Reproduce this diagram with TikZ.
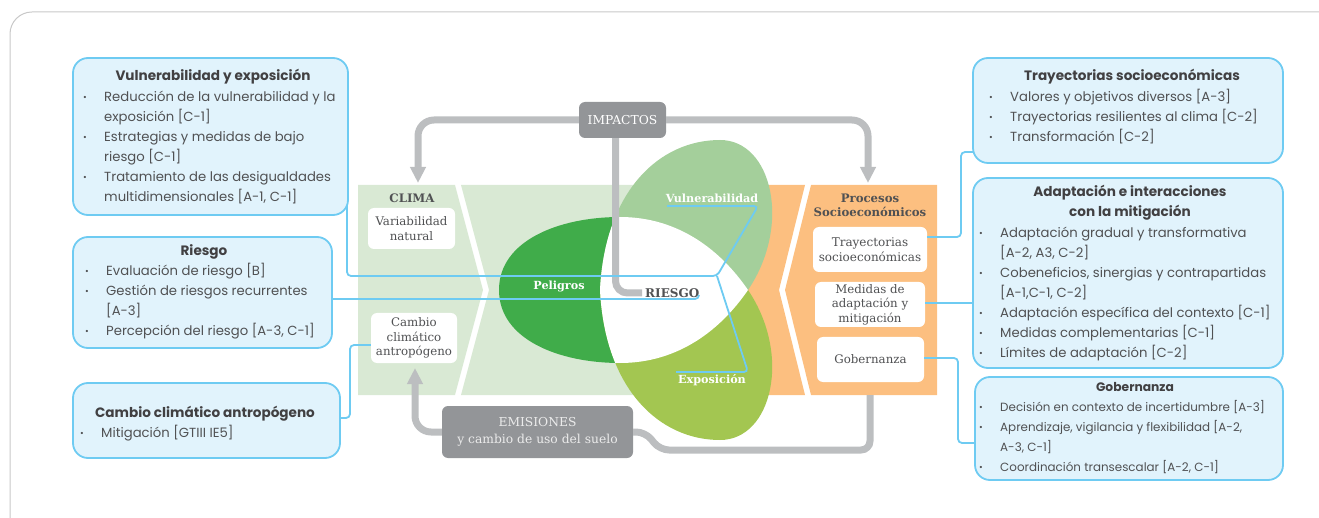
\documentclass[tikz,border=0pt]{standalone}
\usepackage{fontspec}
\setmainfont{Poppins}
\newfontfamily\slab{DejaVu Serif}
\usetikzlibrary{arrows.meta,calc}
\definecolor{framec}{HTML}{C8C8C8}
\definecolor{bandc}{HTML}{D9E9D4}
\definecolor{orc}{HTML}{FCBF80}
\definecolor{pelc}{HTML}{40AC4A}
\definecolor{vulc}{HTML}{A4CF9B}
\definecolor{expc}{HTML}{A3C651}
\definecolor{lineblue}{HTML}{6ECBF2}
\definecolor{boxfill}{HTML}{E1F3FC}
\definecolor{arrowgray}{HTML}{BCBEC0}
\definecolor{boxgray}{HTML}{939598}
\definecolor{txtgray}{HTML}{505153}
\definecolor{hdgray}{HTML}{414042}
\newcommand{\bl}{\makebox[21pt][l]{\raisebox{1pt}{\fontsize{9}{9}\selectfont\textbullet}}}
\newcommand{\ct}{\hspace*{21pt}}
\begin{document}
\begin{tikzpicture}[x=1pt,y=-1pt,
  conn/.style={draw=lineblue, line width=1.8pt, rounded corners=4pt},
  garrow/.style={draw=arrowgray, line width=7pt, rounded corners=16pt},
  gtip/.style={-{Triangle[width=15pt,length=16pt]}},
  info/.style={draw=lineblue, line width=1.8pt, fill=boxfill, rounded corners=15pt, inner sep=0pt, outer sep=0pt, anchor=north west},
  hd/.style={anchor=base, inner sep=0pt, font=\bfseries\fontsize{13.6}{20}\selectfont, text=hdgray},
  bltxt/.style={anchor=north west, inner sep=0pt, align=left, font=\fontsize{13.2}{20}\selectfont, text=txtgray},
  inbox/.style={fill=white, rounded corners=6pt, inner sep=0pt, font=\slab\fontsize{11.8}{14.5}\selectfont, text=txtgray, align=center},
  graybox/.style={fill=boxgray, rounded corners=6pt, inner sep=0pt, text=white, font=\slab\fontsize{12.3}{17}\selectfont, align=center},
  blade/.style={font=\slab\bfseries\fontsize{11.2}{12}\selectfont, text=white, inner sep=0pt},
  panelhd/.style={font=\slab\bfseries\fontsize{11.7}{14}\selectfont, text=txtgray, inner sep=0pt, align=center}
]
\useasboundingbox (0,0) rectangle (1319,518);
% frame
\draw[framec, line width=1pt, rounded corners=22pt] (10,12) rectangle (1350,550);
% green band
\fill[bandc] (358,185) -- (455,185) -- (483,290) -- (455,395) -- (358,395) -- cycle;
\fill[bandc] (461,185) -- (725,185) -- (725,395) -- (461,395) -- (489,290) -- cycle;
% orange band
\fill[orc] (720,185) -- (805,185) -- (779,290) -- (805,395) -- (720,395) -- cycle;
\fill[orc] (811,185) -- (937,185) -- (937,395) -- (811,395) -- (785,290) -- cycle;
% blades
\def\pelpath{(499,290) .. controls (499,240) and (560,217) .. (620,217) .. controls (680,217) and (722,252) .. (748,290) .. controls (722,328) and (680,363) .. (620,363) .. controls (560,363) and (499,340) .. (499,290) -- cycle}
\def\vulpath{(600,290) .. controls (605,190) and (660,140) .. (720,140) .. controls (772,140) and (792,225) .. (748,290) -- cycle}
\def\exppath{(600,290) .. controls (605,390) and (660,440) .. (720,440) .. controls (772,440) and (792,355) .. (748,290) -- cycle}
\fill[pelc] \pelpath;
\fill[vulc] \vulpath;
\fill[expc] \exppath;
\begin{scope}
  \clip \pelpath;
  \fill[white] \vulpath;
  \fill[white] \exppath;
\end{scope}
% blade labels
\node[blade] (vul) at (712,198) {Vulnerabilidad};
\node[blade] (pel) at (559,286) {Peligros};
\node[blade] (exp) at (712,380) {Exposición};
\node[font=\slab\bfseries\fontsize{12}{12}\selectfont, text=txtgray, inner sep=0pt, anchor=west] (rie) at (645,293) {RIESGO};
% panel headings and inner boxes
\node[panelhd] (clima) at (412,198) {CLIMA};
\node[panelhd] (proc) at (870,205) {Procesos\\Socioeconómicos};
\node[inbox, minimum width=87pt, minimum height=41pt] (var) at (411.5,228.5) {Variabilidad\\natural};
\node[inbox, minimum width=86pt, minimum height=50pt] (cc) at (414,338) {Cambio\\climático\\antropógeno};
\node[inbox, minimum width=114pt, minimum height=45pt, font=\slab\fontsize{12}{15}\selectfont] (tr) at (870,249.5) {Trayectorias\\socioeconómicas};
\node[inbox, minimum width=110pt, minimum height=45pt] (md) at (870,304.5) {Medidas de\\adaptación y\\mitigación};
\node[inbox, minimum width=107pt, minimum height=45pt] (gb) at (870.5,359.5) {Gobernanza};
% gray boxes
\node[graybox, minimum width=87pt, minimum height=36pt] (imp) at (622.5,120) {IMPACTOS};
\node[graybox, minimum width=191pt, minimum height=52pt, text=white!92!black] (emis) at (537.5,432) {EMISIONES\\y cambio de uso del suelo};
% gray arrows
\coordinate (climatip) at (418,183);
\coordinate (proctip) at (868,183);
\coordinate (cctip) at (415,368);
\coordinate (procbot) at (870,395);
\draw[garrow, gtip] (imp.west) -| (climatip);
\draw[garrow, gtip] (imp.east) -| (proctip);
\draw[garrow, rounded corners=12pt] ($(imp.south)+(-7,0)$) |- ($(rie.west)+(-3,0)$);
\draw[garrow, gtip] (emis.west) -| (cctip);
\draw[garrow, rounded corners=9pt] (emis.east) -- ++(12,0) -- (660,450) -- (870,450) -- (procbot);
% blue connector joints
\coordinate (j1) at (717,276);
\coordinate (vu1) at (758,206);
\coordinate (vu2) at (667,206);
\coordinate (ex1) at (748,372);
\coordinate (ex2) at (676,372);
\coordinate (rg1) at (699,299);
\coordinate (c3) at (350,345);
\coordinate (c4a) at (961,237);
\coordinate (c4b) at (961,152);
\coordinate (c5) at (950,303);
\coordinate (c6a) at (958,358);
\coordinate (c6b) at (958,443);
\draw[conn] (347,203) |- (j1) -- (vu1) -- (vu2);
\draw[conn] (j1) -- (ex1) -- (ex2);
\draw[conn] (330,299) -- (rg1) -- ++(0,-4);
\draw[conn] (338,418) -| (c3) -- (cc.west |- c3);
\draw[conn] (tr.east |- c4a) -- (c4a) -- (c4b) -- (975,152);
\draw[conn] (md.east |- c5) -- (975,303);
\draw[conn] (gb.east |- c6a) -- (c6a) -- (c6b) -- (977,443);
% info boxes
\node[info, minimum width=275pt, minimum height=157pt] (b1) at (73,58) {};
\node[info, minimum width=259pt, minimum height=111pt] (b2) at (73,237) {};
\node[info, minimum width=267pt, minimum height=75pt] (b3) at (73,383) {};
\node[info, minimum width=310pt, minimum height=105pt] (b4) at (973,58) {};
\node[info, minimum width=310pt, minimum height=190pt] (b5) at (973,178) {};
\node[info, minimum width=308pt, minimum height=103pt] (b6) at (975,377) {};
% box texts
\node[hd] (h1) at (213,81) {Vulnerabilidad y exposición};
\node[bltxt] (t1) at (83,87) {\rule{0pt}{14pt}\bl Reducción de la vulnerabilidad y la\\
\ct exposición [C-1]\\
\bl Estrategias y medidas de bajo\\
\ct riesgo [C-1]\\
\bl Tratamiento de las desigualdades\\
\ct multidimensionales [A-1, C-1]};
\node[hd] (h2) at (204,256) {Riesgo};
\node[bltxt] (t2) at (85,261) {\rule{0pt}{14pt}\bl Evaluación de riesgo [B]\\
\bl Gestión de riesgos recurrentes\\
\ct [A-3]\\
\bl Percepción del riesgo [A-3, C-1]};
\node[hd] (h3) at (205,417) {Cambio climático antropógeno};
\node[bltxt] (t3) at (80,423) {\rule{0pt}{14pt}\bl Mitigación [GTIII IE5]};
\node[hd] (h4) at (1132,81) {Trayectorias socioeconómicas};
\node[bltxt] (t4) at (989,87) {\rule{0pt}{14pt}\bl Valores y objetivos diversos [A-3]\\
\bl Trayectorias resilientes al clima [C-2]\\
\bl Transformación [C-2]};
\node[hd] (h5a) at (1130,197) {Adaptación e interacciones};
\node[hd] (h5b) at (1130,217) {con la mitigación};
\node[bltxt] (t5) at (979,223) {\rule{0pt}{14pt}\bl Adaptación gradual y transformativa\\
\ct [A-2, A3, C-2]\\
\bl Cobeneficios, sinergias y contrapartidas\\
\ct [A-1,C-1, C-2]\\
\bl Adaptación específica del contexto [C-1]\\
\bl Medidas complementarias [C-1]\\
\bl Límites de adaptación [C-2]};
\node[hd, font=\bfseries\fontsize{12.3}{20}\selectfont] (h6) at (1135,391) {Gobernanza};
\node[bltxt, font=\fontsize{11.9}{20}\selectfont] (t6) at (979,397) {\rule{0pt}{14pt}\bl Decisión en contexto de incertidumbre [A-3]\\
\bl Aprendizaje, vigilancia y flexibilidad [A-2,\\
\ct A-3, C-1]\\
\bl Coordinación transescalar [A-2, C-1]};
\end{tikzpicture}
\end{document}
